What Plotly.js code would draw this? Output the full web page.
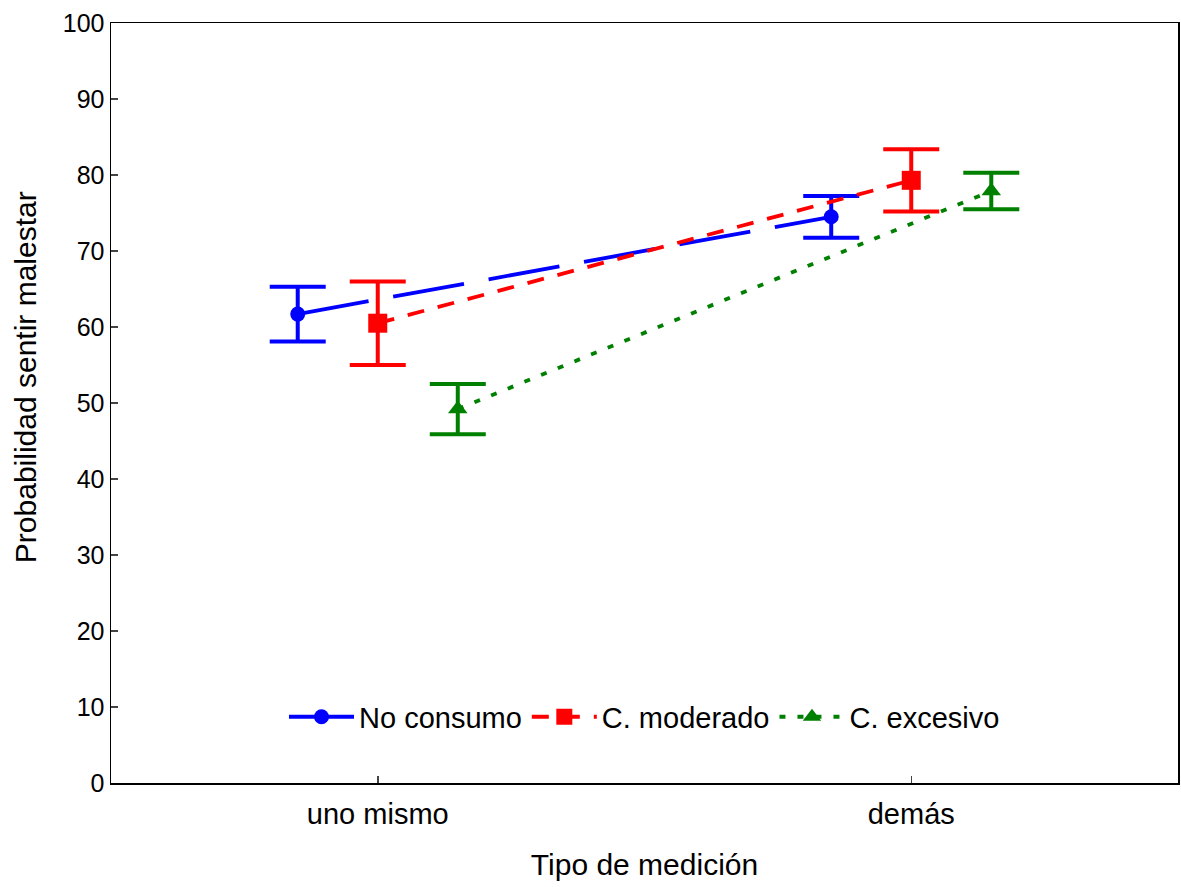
<!DOCTYPE html>
<html>
<head>
<meta charset="utf-8">
<script src="https://cdn.plot.ly/plotly-3.0.1.min.js"></script>
<style>html,body{margin:0;padding:0;background:#fff;}#chart{width:1181px;height:887px;}</style>
</head>
<body>
<div id="chart"></div>
<script>
var categories = ["uno mismo", "demás"];
var seriesNames = ["No consumo", "C. moderado", "C. excesivo"];
var noConsumo = [61.7, 74.5];
var noConsumoErr = [3.6, 2.75];
var moderado = [60.5, 79.3];
var moderadoErr = [5.5, 4.1];
var excesivo = [49.2, 77.9];
var excesivoErr = [3.3, 2.4];
var yTicks = [0, 10, 20, 30, 40, 50, 60, 70, 80, 90, 100];
var xTitle = "Tipo de medición";
var yTitle = "Probabilidad sentir malestar";

var groupOffset = 0.15;
var font = "Liberation Sans, Arial, sans-serif";

function xs(k) {
  return categories.map(function (c, i) { return i + (k - 1) * groupOffset; });
}

var styles = [
  {color: "#0000ff", dash: "72px,25px", symbol: "circle", size: 15},
  {color: "#ff0000", dash: "17px,14px", symbol: "square", size: 19},
  {color: "#008000", dash: "6px,12px", symbol: "triangle-up", size: 17}
];
var vals = [noConsumo, moderado, excesivo];
var errs = [noConsumoErr, moderadoErr, excesivoErr];

var traces = vals.map(function (v, k) {
  return {
    type: "scatter",
    mode: "lines+markers",
    name: seriesNames[k],
    x: xs(k),
    y: v,
    line: {color: styles[k].color, width: 3.8, dash: styles[k].dash},
    marker: {color: styles[k].color, symbol: styles[k].symbol, size: styles[k].size},
    error_y: {type: "data", array: errs[k], visible: true, color: styles[k].color, thickness: 4, width: 28}
  };
});

var layout = {
  width: 1181,
  height: 887,
  margin: {l: 111, r: 3, t: 23, b: 104},
  paper_bgcolor: "#fff",
  plot_bgcolor: "#fff",
  font: {family: font, size: 29, color: "#000"},
  showlegend: true,
  legend: {
    orientation: "h",
    x: 0.5, xanchor: "center",
    y: 0.087, yanchor: "middle",
    font: {family: font, size: 29, color: "#000"},
    bgcolor: "rgba(0,0,0,0)",
    itemwidth: 65,
    tracegroupgap: 0
  },
  xaxis: {
    range: [-0.5, 1.5],
    tickmode: "array",
    tickvals: categories.map(function (c, i) { return i; }),
    ticktext: categories,
    ticks: "inside",
    ticklen: 7,
    tickwidth: 1.5,
    ticklabelstandoff: 5,
    showgrid: false,
    zeroline: false,
    showline: true,
    linecolor: "#000",
    linewidth: 1.5,
    mirror: true,
    tickfont: {family: font, size: 29, color: "#000"},
    title: {text: xTitle, font: {family: font, size: 30, color: "#000"}, standoff: 24}
  },
  yaxis: {
    range: [0, 100],
    tickmode: "array",
    tickvals: yTicks,
    ticktext: yTicks.map(String),
    ticks: "inside",
    ticklen: 7,
    tickwidth: 1.5,
    showgrid: false,
    zeroline: false,
    showline: true,
    linecolor: "#000",
    linewidth: 1.5,
    mirror: true,
    tickfont: {family: font, size: 25, color: "#000"}
  },
  annotations: [{
    text: yTitle,
    xref: "paper", yref: "paper",
    x: 0, y: 0.534,
    xanchor: "center", yanchor: "middle",
    xshift: -86,
    textangle: -90,
    showarrow: false,
    font: {family: font, size: 30, color: "#000"}
  }]
};

Plotly.newPlot("chart", traces, layout, {displayModeBar: false, staticPlot: true});
</script>
</body>
</html>
